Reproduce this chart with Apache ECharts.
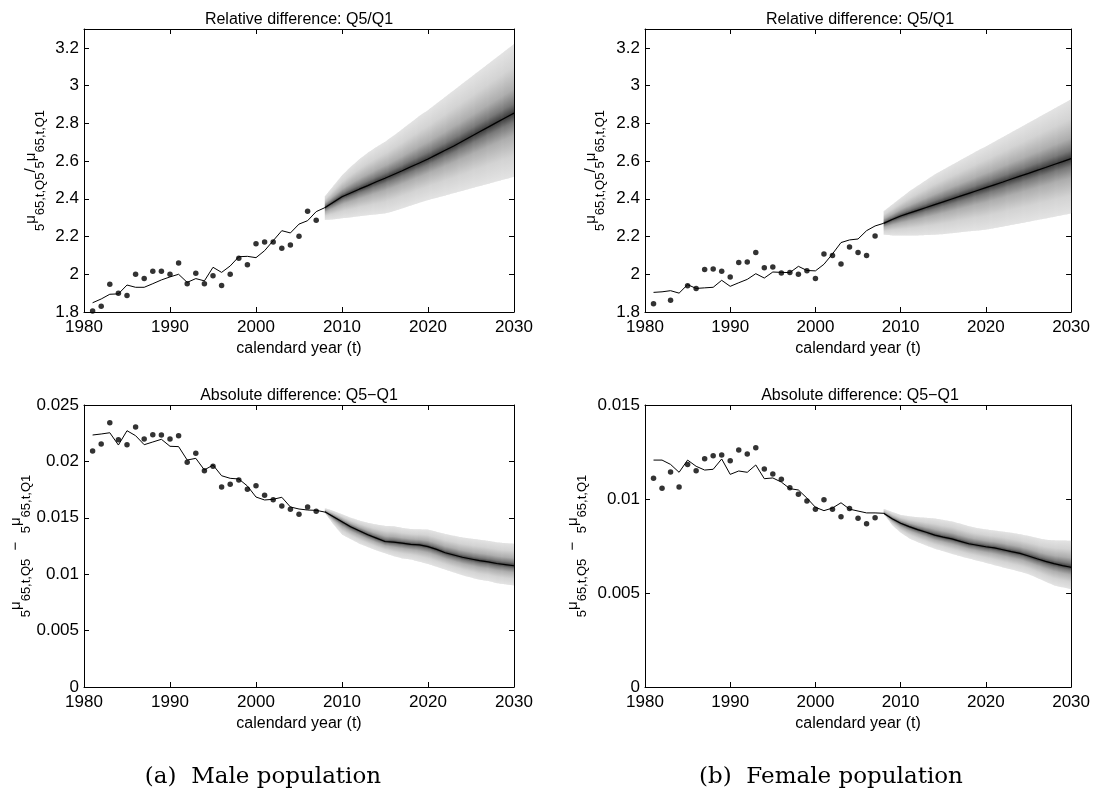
<!DOCTYPE html>
<html><head><meta charset="utf-8">
<script src="https://cdn.jsdelivr.net/npm/echarts@6/dist/echarts.min.js"></script>
<style>html,body{margin:0;padding:0;background:#fff}#c{width:1093px;height:790px}</style>
</head><body><div id="c"></div>
<script>
// ---------- data ----------
const obsYears = [1981,1982,1983,1984,1985,1986,1987,1988,1989,1990,1991,1992,1993,1994,1995,1996,1997,1998,1999,2000,2001,2002,2003,2004,2005,2006,2007];
const fitYears = [1981,1982,1983,1984,1985,1986,1987,1988,1989,1990,1991,1992,1993,1994,1995,1996,1997,1998,1999,2000,2001,2002,2003,2004,2005,2006,2007,2008];
const fanYears = [2008,2009,2010,2011,2012,2013,2014,2015,2016,2017,2018,2019,2020,2021,2022,2023,2024,2025,2026,2027,2028,2029,2030];

// Male, relative difference Q5/Q1
const maleRelObs = [1.805,1.830,1.947,1.900,1.888,2.000,1.977,2.016,2.016,2.000,2.060,1.950,2.005,1.950,1.992,1.940,2.000,2.085,2.051,2.162,2.171,2.171,2.138,2.155,2.201,2.334,2.286];
const maleRelFit = [1.849,1.869,1.894,1.896,1.943,1.931,1.931,1.950,1.970,1.986,2.000,1.957,1.977,1.965,2.037,2.010,2.044,2.093,2.095,2.088,2.125,2.178,2.231,2.219,2.266,2.284,2.332,2.353];
const maleRelMed = [2.353,2.382,2.411,2.431,2.451,2.470,2.490,2.509,2.529,2.549,2.570,2.590,2.611,2.634,2.657,2.680,2.705,2.730,2.755,2.780,2.805,2.830,2.854];
const maleRelOuterHi = [2.415,2.470,2.526,2.570,2.610,2.645,2.675,2.703,2.735,2.770,2.805,2.840,2.871,2.906,2.941,2.976,3.011,3.046,3.081,3.116,3.151,3.186,3.221];
const maleRelOuterLo = [2.288,2.291,2.297,2.302,2.308,2.313,2.318,2.323,2.335,2.350,2.365,2.380,2.394,2.406,2.418,2.431,2.443,2.456,2.468,2.480,2.493,2.505,2.517];
const maleRelInnerHi = [2.375,2.413,2.451,2.480,2.507,2.531,2.555,2.577,2.601,2.626,2.652,2.678,2.702,2.729,2.756,2.784,2.812,2.841,2.869,2.898,2.926,2.955,2.982];
const maleRelInnerLo = [2.330,2.350,2.371,2.386,2.401,2.415,2.430,2.444,2.461,2.479,2.498,2.516,2.535,2.554,2.573,2.593,2.613,2.634,2.655,2.675,2.696,2.716,2.736];

// Female, relative difference Q5/Q1
const femaleRelObs = [1.844,null,1.862,null,1.939,1.924,2.025,2.028,2.016,1.986,2.062,2.065,2.115,2.035,2.039,2.007,2.009,2.000,2.018,1.977,2.108,2.100,2.054,2.145,2.116,2.100,2.203];
const femaleRelFit = [1.904,1.907,1.913,1.900,1.945,1.925,1.928,1.931,1.968,1.936,1.955,1.973,2.003,1.980,2.012,2.010,2.009,2.042,2.020,2.018,2.053,2.108,2.168,2.182,2.187,2.231,2.256,2.270];
const femaleRelMed = [2.270,2.290,2.309,2.324,2.339,2.354,2.369,2.384,2.399,2.414,2.429,2.444,2.459,2.474,2.489,2.505,2.520,2.535,2.551,2.566,2.582,2.597,2.613];
const femaleRelOuterHi = [2.335,2.370,2.405,2.440,2.470,2.500,2.530,2.555,2.580,2.605,2.630,2.655,2.678,2.703,2.728,2.753,2.778,2.803,2.828,2.853,2.878,2.903,2.928];
const femaleRelOuterLo = [2.210,2.206,2.205,2.205,2.206,2.208,2.210,2.213,2.218,2.223,2.228,2.232,2.237,2.245,2.253,2.262,2.270,2.279,2.288,2.296,2.305,2.314,2.323];
const femaleRelInnerHi = [2.293,2.318,2.343,2.365,2.385,2.405,2.425,2.444,2.462,2.481,2.499,2.518,2.536,2.554,2.573,2.592,2.610,2.629,2.648,2.666,2.686,2.704,2.723];
const femaleRelInnerLo = [2.249,2.261,2.273,2.282,2.292,2.303,2.313,2.324,2.336,2.347,2.359,2.370,2.381,2.394,2.406,2.420,2.432,2.445,2.459,2.471,2.485,2.498,2.511];

// Male, absolute difference Q5-Q1
const maleAbsObs = [0.02092,0.02154,0.02343,0.02193,0.02148,0.02305,0.02199,0.02237,0.02234,0.02199,0.02228,0.01992,0.02072,0.01918,0.01956,0.01773,0.01797,0.01835,0.01752,0.01785,0.01699,0.01660,0.01605,0.01575,0.01531,0.01596,0.01557];
const maleAbsFit = [0.02234,0.02243,0.02254,0.02145,0.02272,0.02228,0.02148,0.02172,0.02196,0.02134,0.02131,0.02012,0.02027,0.01924,0.01968,0.01873,0.01850,0.01844,0.01782,0.01684,0.01658,0.01664,0.01682,0.01596,0.01578,0.01569,0.01566,0.01551];
const maleAbsMed = [0.01554,0.01510,0.01465,0.01420,0.01385,0.01350,0.01320,0.01290,0.01285,0.01275,0.01265,0.01260,0.01245,0.01220,0.01190,0.01170,0.01150,0.01135,0.01120,0.01110,0.01095,0.01085,0.01075];
const maleAbsOuterHi = [0.01585,0.01560,0.01530,0.01500,0.01475,0.01455,0.01440,0.01428,0.01425,0.01410,0.01400,0.01398,0.01395,0.01375,0.01355,0.01340,0.01325,0.01315,0.01305,0.01295,0.01282,0.01275,0.01270];
const maleAbsOuterLo = [0.01540,0.01440,0.01350,0.01310,0.01270,0.01240,0.01210,0.01185,0.01160,0.01140,0.01130,0.01110,0.01090,0.01065,0.01040,0.01015,0.00990,0.00970,0.00950,0.00940,0.00920,0.00910,0.00900];
const maleAbsInnerHi = [0.01565,0.01528,0.01488,0.01448,0.01417,0.01387,0.01362,0.01338,0.01334,0.01322,0.01312,0.01308,0.01298,0.01274,0.01248,0.01230,0.01211,0.01198,0.01185,0.01175,0.01160,0.01152,0.01143];
const maleAbsInnerLo = [0.01549,0.01485,0.01425,0.01381,0.01345,0.01311,0.01281,0.01253,0.01241,0.01228,0.01218,0.01207,0.01191,0.01166,0.01137,0.01116,0.01094,0.01077,0.01060,0.01050,0.01034,0.01024,0.01014];

// Female, absolute difference Q5-Q1
const femaleAbsObs = [0.01110,0.01057,0.01144,0.01064,0.01183,0.01150,0.01214,0.01230,0.01234,0.01204,0.01261,0.01239,0.01273,0.01160,0.01133,0.01105,0.01060,0.01025,0.00989,0.00945,0.00996,0.00945,0.00906,0.00950,0.00897,0.00869,0.00900];
const femaleAbsFit = [0.01207,0.01207,0.01184,0.01142,0.01207,0.01174,0.01154,0.01158,0.01213,0.01131,0.01149,0.01142,0.01181,0.01108,0.01112,0.01090,0.01055,0.01048,0.01005,0.00956,0.00938,0.00952,0.00980,0.00946,0.00936,0.00926,0.00926,0.00924];
const femaleAbsMed = [0.00924,0.00895,0.00871,0.00853,0.00837,0.00823,0.00808,0.00797,0.00788,0.00775,0.00762,0.00754,0.00746,0.00740,0.00730,0.00720,0.00711,0.00697,0.00682,0.00668,0.00656,0.00646,0.00637];
const femaleAbsOuterHi = [0.00947,0.00930,0.00915,0.00908,0.00903,0.00900,0.00896,0.00888,0.00880,0.00868,0.00855,0.00845,0.00838,0.00832,0.00826,0.00820,0.00812,0.00803,0.00792,0.00783,0.00780,0.00779,0.00778];
const femaleAbsOuterLo = [0.00920,0.00860,0.00820,0.00790,0.00770,0.00752,0.00735,0.00722,0.00708,0.00695,0.00683,0.00672,0.00660,0.00648,0.00636,0.00625,0.00613,0.00600,0.00580,0.00560,0.00540,0.00530,0.00520];
const femaleAbsInnerHi = [0.00932,0.00907,0.00886,0.00872,0.00860,0.00850,0.00839,0.00829,0.00820,0.00808,0.00795,0.00786,0.00778,0.00772,0.00764,0.00755,0.00746,0.00734,0.00721,0.00708,0.00699,0.00693,0.00686];
const femaleAbsInnerLo = [0.00923,0.00883,0.00853,0.00831,0.00814,0.00798,0.00782,0.00771,0.00760,0.00747,0.00734,0.00725,0.00716,0.00708,0.00697,0.00687,0.00677,0.00663,0.00646,0.00630,0.00615,0.00605,0.00596];

const titleRel = 'Relative difference: Q5/Q1';
const titleAbs = 'Absolute difference: Q5\u2212Q1';
const xName = 'calendard year (t)';
const yNameRel = '{s|5}{m|\u03bc}{s|65,t,Q5}{m|/}{s|5}{m|\u03bc}{s|65,t,Q1}';
const yNameAbs = '{s|5}{m|\u03bc}{s|65,t,Q5}{m|  \u2212  }{s|5}{m|\u03bc}{s|65,t,Q1}';
const captions = ['(a)  Male population', '(b)  Female population'];

// ---------- layout / style ----------
const SANS = '"Liberation Sans", Arial, Helvetica, sans-serif';
const SERIF = '"DejaVu Serif", "Liberation Serif", serif';
const panels = [
  {grid:{left:84,top:29,width:430,height:283}, ymin:1.8, ymax:3.3, yint:0.2, showMax:false,
   obs:maleRelObs, fit:maleRelFit, med:maleRelMed, oLo:maleRelOuterLo, oHi:maleRelOuterHi, iLo:maleRelInnerLo, iHi:maleRelInnerHi,
   title:titleRel, yName:yNameRel, nameGap:37},
  {grid:{left:645,top:29,width:430,height:283}, ymin:1.8, ymax:3.3, yint:0.2, showMax:false,
   obs:femaleRelObs, fit:femaleRelFit, med:femaleRelMed, oLo:femaleRelOuterLo, oHi:femaleRelOuterHi, iLo:femaleRelInnerLo, iHi:femaleRelInnerHi,
   title:titleRel, yName:yNameRel, nameGap:38},
  {grid:{left:84,top:405,width:430,height:282}, ymin:0, ymax:0.025, yint:0.005, showMax:true,
   obs:maleAbsObs, fit:maleAbsFit, med:maleAbsMed, oLo:maleAbsOuterLo, oHi:maleAbsOuterHi, iLo:maleAbsInnerLo, iHi:maleAbsInnerHi,
   title:titleAbs, yName:yNameAbs, nameGap:41},
  {grid:{left:645,top:405,width:430,height:282}, ymin:0, ymax:0.015, yint:0.005, showMax:true,
   obs:femaleAbsObs, fit:femaleAbsFit, med:femaleAbsMed, oLo:femaleAbsOuterLo, oHi:femaleAbsOuterHi, iLo:femaleAbsInnerLo, iHi:femaleAbsInnerHi,
   title:titleAbs, yName:yNameAbs, nameGap:56}
];

const axisLineStyle = {show:true, onZero:false, lineStyle:{color:'#000', width:1}};
const tickStyle = {show:true, inside:true, length:5, lineStyle:{color:'#000', width:1}};

const grids = [], xAxes = [], yAxes = [], series = [], graphics = [];

// fan chart: thin vertical slices along each straight segment between the read
// points; each slice is shaded with a vertical gradient whose stops sit on the
// read quantile curves (outer band, inner band, median)
function fan(pi, p) {
  return {
    type:'custom', xAxisIndex:2*pi, yAxisIndex:2*pi, silent:true, clip:true, z:1,
    data: fanYears.map((y,k)=>[y, p.oLo[k], p.oHi[k]]),
    encode:{x:0, y:[1,2]},
    renderItem: function(params, api) {
      if (params.dataIndex !== 0) return {type:'group', children:[]};
      const children = [];
      const n = fanYears.length, S = 8;
      const pt = (k, arr) => api.coord([fanYears[k], arr[k]]);
      for (let k=0;k<n-1;k++) {
        const curves = [p.oHi, p.iHi, p.med, p.iLo, p.oLo].map(arr => [pt(k,arr), pt(k+1,arr)]);
        const xA = curves[0][0][0], xB = curves[0][1][0];
        const yAt = (c, t) => c[0][1] + (c[1][1]-c[0][1])*t;
        for (let s=0;s<S;s++) {
          const t0 = s/S, t1 = (s+1)/S, tm = (t0+t1)/2;
          const x0 = xA + (xB-xA)*t0;
          let x1 = xA + (xB-xA)*t1;
          if (!(k===n-2 && s===S-1)) x1 += 0.7;
          const h0 = yAt(curves[0], t0), h1 = yAt(curves[0], t1);
          const l0 = yAt(curves[4], t0), l1 = yAt(curves[4], t1);
          const top = yAt(curves[0], tm), bot = yAt(curves[4], tm);
          const H = Math.max(bot-top, 0.5);
          const f = v => Math.min(1, Math.max(0, (v-top)/H));
          const ih = f(yAt(curves[1], tm)), md = f(yAt(curves[2], tm)), il = f(yAt(curves[3], tm));
          const stops = [
            {offset:0, color:'#e3e3e3'},
            {offset:ih*0.5, color:'#d3d3d3'},
            {offset:ih, color:'#adadad'},
            {offset:ih+(md-ih)*0.6, color:'#787878'},
            {offset:md, color:'#3a3a3a'},
            {offset:md+(il-md)*0.4, color:'#787878'},
            {offset:il, color:'#adadad'},
            {offset:il+(1-il)*0.5, color:'#d3d3d3'},
            {offset:1, color:'#e3e3e3'}
          ];
          children.push({type:'polygon',
            shape:{points:[[x0,h0],[x1,h1],[x1,l1],[x0,l0]]},
            style:{fill:{type:'linear', x:0, y:top, x2:0, y2:top+H, global:true, colorStops:stops}}});
        }
      }
      return {type:'group', children:children};
    }
  };
}

panels.forEach((p, i) => {
  grids.push(Object.assign({containLabel:false, show:false}, p.grid));
  xAxes.push({gridIndex:i, type:'value', position:'bottom', min:1980, max:2030, interval:10,
    axisLine:axisLineStyle, axisTick:tickStyle, splitLine:{show:false},
    axisLabel:{margin:7, color:'#000', fontSize:17, fontFamily:SANS, formatter:v=>String(v)},
    name:xName, nameLocation:'middle', nameGap:29,
    nameTextStyle:{color:'#000', fontSize:16, fontFamily:SANS}});
  xAxes.push({gridIndex:i, type:'value', position:'top', min:1980, max:2030, interval:10,
    axisLine:axisLineStyle, axisTick:tickStyle, splitLine:{show:false}, axisLabel:{show:false}});
  yAxes.push({gridIndex:i, type:'value', position:'left', min:p.ymin, max:p.ymax, interval:p.yint,
    axisLine:axisLineStyle, axisTick:tickStyle, splitLine:{show:false},
    axisLabel:{margin:5, color:'#000', fontSize:17, fontFamily:SANS, showMaxLabel:p.showMax},
    name:p.yName, nameLocation:'middle', nameRotate:90, nameGap:p.nameGap,
    nameTextStyle:{color:'#000', fontFamily:SANS,
      rich:{ s:{fontSize:13, fontFamily:SANS, color:'#000', verticalAlign:'bottom', lineHeight:24},
             m:{fontSize:15, fontFamily:SANS, color:'#000', verticalAlign:'top', lineHeight:24} }}});
  yAxes.push({gridIndex:i, type:'value', position:'right', min:p.ymin, max:p.ymax, interval:p.yint,
    axisLine:axisLineStyle, axisTick:tickStyle, splitLine:{show:false}, axisLabel:{show:false}});

  series.push(fan(i, p));
  series.push({type:'line', xAxisIndex:2*i, yAxisIndex:2*i, z:3, silent:true, symbol:'none',
    lineStyle:{color:'#000', width:1.2}, data: fanYears.map((y,k)=>[y, p.med[k]])});
  series.push({type:'line', xAxisIndex:2*i, yAxisIndex:2*i, z:3, silent:true, symbol:'none',
    lineStyle:{color:'#000', width:1}, data: fitYears.map((y,k)=>[y, p.fit[k]])});
  series.push({type:'scatter', xAxisIndex:2*i, yAxisIndex:2*i, z:4, silent:true, symbol:'circle', symbolSize:5.5,
    itemStyle:{color:'#000'}, data: obsYears.map((y,k)=>[y, p.obs[k]]).filter(d=>d[1]!==null)});

  graphics.push({type:'text', x:p.grid.left + p.grid.width/2, y:p.grid.top - 9, silent:true,
    style:{text:p.title, font:'16px ' + SANS, fill:'#000', align:'center', verticalAlign:'middle',
           textAlign:'center', textVerticalAlign:'middle'}});
});

graphics.push({type:'text', x:263, y:777, silent:true,
  style:{text:captions[0], font:'23px ' + SERIF, fill:'#000', align:'center', verticalAlign:'middle', textAlign:'center', textVerticalAlign:'middle'}});
graphics.push({type:'text', x:831, y:777, silent:true,
  style:{text:captions[1], font:'23px ' + SERIF, fill:'#000', align:'center', verticalAlign:'middle', textAlign:'center', textVerticalAlign:'middle'}});

const chart = echarts.init(document.getElementById('c'), null, {renderer:'canvas'});
chart.setOption({
  backgroundColor:'#fff', animation:false,
  grid:grids, xAxis:xAxes, yAxis:yAxes, series:series, graphic:graphics
});
</script></body></html>
